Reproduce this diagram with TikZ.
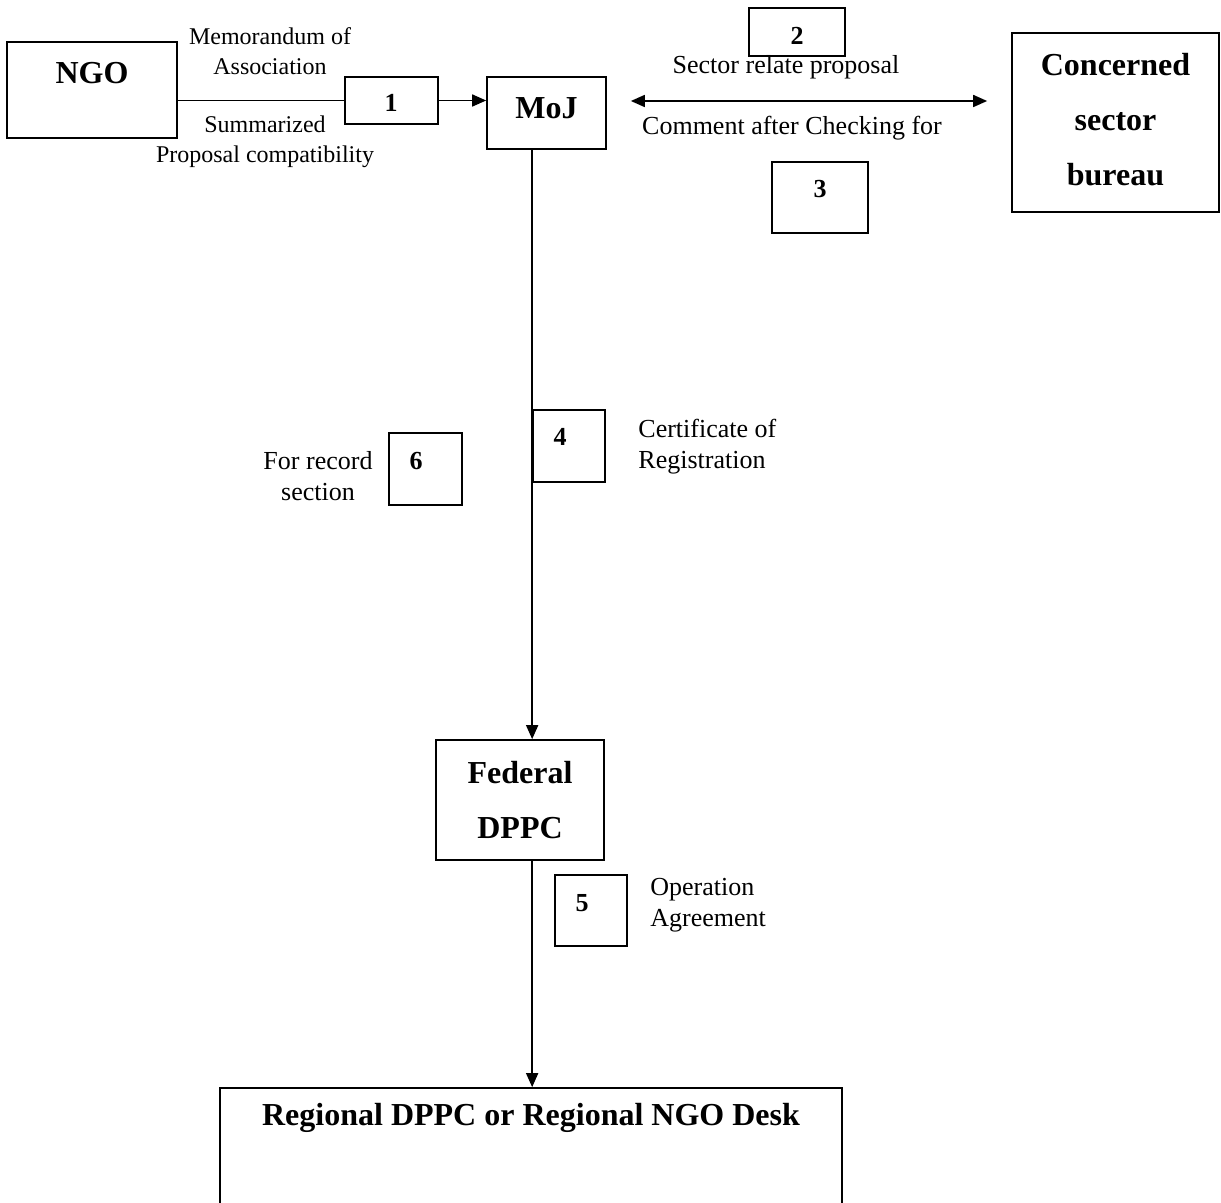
\documentclass[tikz,border=0pt]{standalone}
\usepackage{fontspec}
\setmainfont{Liberation Serif}
\usetikzlibrary{positioning,arrows.meta}

\begin{document}
\begin{tikzpicture}[x=0.5pt, y=-0.5pt, font=\fontsize{13}{15.5}\selectfont,
  box/.style={draw, line width=0.85pt, inner sep=0pt, align=center},
  title/.style={font=\fontsize{16}{27.5}\selectfont\bfseries, align=center, inner sep=0pt},
  num/.style={font=\fontsize{13}{15}\selectfont\bfseries, inner sep=0pt},
  small/.style={font=\fontsize{12}{15}\selectfont, align=center, inner sep=0pt},
  txt/.style={align=left, inner sep=0pt},
  wire/.style={line width=0.85pt},
  arr/.style={wire, -{Triangle[length=7pt, width=6pt]}},
  arrs/.style={wire, {Triangle[length=7pt, width=6pt]}-{Triangle[length=7pt, width=6pt]}}]
\useasboundingbox (0,0) rectangle (1221,1203);
% main offices
\node[box, minimum width=85pt, minimum height=48pt] (ngo) at (92,90) {};
\node[title] (ngot) at (92,73) {NGO};
\node[box, title, draw, line width=0.85pt, minimum width=59.5pt, minimum height=36pt, text depth=5pt] (moj) at (546.5,113) {MoJ};
\node[box, title, draw, line width=0.85pt, minimum width=103.5pt, minimum height=89.5pt] (csb) at (1115.5,122.5) {Concerned\\sector\\bureau\rule[-3pt]{0pt}{1pt}};
\node[box, title, draw, line width=0.85pt, minimum width=84pt, minimum height=60pt] (fed) at (520,800) {Federal\\DPPC};
\node[box, minimum width=311pt, minimum height=63.5pt] (reg) at (531,1151.5) {};
\node[title] (regt) at (531,1118) {Regional DPPC or Regional NGO Desk};
% numbered steps
\node[box, minimum width=46.5pt, minimum height=23.5pt] (b1) at (391.5,100.5) {};
\node[num] (n1) at (391,103) {1};
\node[box, minimum width=48pt, minimum height=24pt] (b2) at (797,32) {};
\node[num] (n2) at (797,36) {2};
\node[box, minimum width=48pt, minimum height=35.5pt] (b3) at (820,197.5) {};
\node[num] (n3) at (820,189) {3};
\node[box, minimum width=36pt, minimum height=36pt] (b4) at (569,446) {};
\node[num] (n4) at (560,437) {4};
\node[box, minimum width=36pt, minimum height=35.5pt] (b5) at (591,910.5) {};
\node[num] (n5) at (582,903) {5};
\node[box, minimum width=36.5pt, minimum height=36pt] (b6) at (425.5,469) {};
\node[num] (n6) at (416,461) {6};
% labels
\node[small] (memo) at (270,51) {Memorandum of\\Association};
\node[small] (summ) at (265,141.5) {Summarized\\Proposal compatibility};
\node[inner sep=0pt] (sect) at (786,67) {Sector relate proposal};
\node[inner sep=0pt] (comm) at (792,128) {Comment after Checking for};
\node[txt, anchor=west] (cert) at (638,446.5) {Certificate of\\Registration};
\node[txt, align=center] (rec) at (318,476) {For record\\section};
\node[txt, anchor=west] (oper) at (650,905) {Operation\\Agreement};
% connectors
\coordinate (mid) at (800,101);
\draw[wire] (ngo.east |- b1.west) -- (b1.west);
\draw[arr] (b1.east) -- (moj.west |- b1.east);
\draw[arrs, shorten <=12pt, shorten >=12pt] (moj.east |- mid) -- (csb.west |- mid);
\draw[arr] (moj.south -| b4.west) -- (fed.north -| b4.west);
\draw[arr] (fed.south -| b4.west) -- (reg.north -| b4.west);
\end{tikzpicture}
\end{document}
